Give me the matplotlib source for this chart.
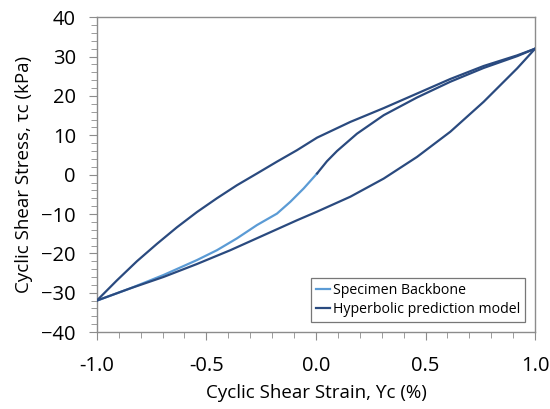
import matplotlib
matplotlib.use("Agg")
import matplotlib.pyplot as plt
from matplotlib.ticker import MultipleLocator

plt.rcParams['font.family'] = ['Open Sans', 'DejaVu Sans']

# hysteresis loop, upper (unloading) branch
upper_x = [-1.0, -0.909, -0.817, -0.726, -0.635, -0.543, -0.452, -0.361, -0.269,
           -0.178, -0.087, 0.005, 0.157, 0.309, 0.461, 0.613, 0.765, 0.918, 1.0]
upper_y = [-32.0, -26.9, -22.0, -17.6, -13.4, -9.5, -6.0, -2.7, 0.3,
           3.3, 6.2, 9.4, 13.4, 16.9, 20.6, 24.3, 27.6, 30.3, 32.0]

# hysteresis loop, lower (reloading) branch
lower_x = [-1.0, -0.848, -0.696, -0.543, -0.391, -0.239, -0.087, 0.005,
           0.157, 0.309, 0.461, 0.613, 0.765, 0.918, 1.0]
lower_y = [-32.0, -28.9, -26.0, -22.7, -19.2, -15.4, -11.6, -9.4,
           -5.6, -1.0, 4.5, 10.9, 18.5, 27.0, 32.0]

# measured backbone
spec_x = [-1.0, -0.848, -0.696, -0.543, -0.452, -0.361, -0.269, -0.178, -0.117, -0.056, 0.005]
spec_y = [-32.0, -28.9, -25.5, -21.7, -19.2, -16.2, -12.8, -9.9, -6.9, -3.5, 0.3]

# hyperbolic model backbone
model_x = [0.005, 0.05, 0.096, 0.187, 0.309, 0.461, 0.613, 0.765, 0.918, 1.0]
model_y = [0.3, 3.4, 6.0, 10.4, 15.1, 19.6, 23.6, 27.1, 30.1, 32.0]

dark = '#2a4a7f'
light = '#5b9bd5'

fig = plt.figure(figsize=(5.5, 4.09), dpi=100)
ax = fig.add_axes([0.176, 0.188, 0.797, 0.770])

ax.plot(spec_x, spec_y, color=light, lw=1.6, label='Specimen Backbone', zorder=2)
ax.plot(upper_x, upper_y, color=dark, lw=1.6, label='Hyperbolic prediction model', zorder=3)
ax.plot(lower_x, lower_y, color=dark, lw=1.6, zorder=3)
ax.plot(model_x, model_y, color=dark, lw=1.6, zorder=3)

ax.set_xlim(-1.0, 1.0)
ax.set_ylim(-40, 40)
ax.xaxis.set_major_locator(MultipleLocator(0.5))
ax.xaxis.set_minor_locator(MultipleLocator(0.1))
ax.yaxis.set_major_locator(MultipleLocator(10))
ax.yaxis.set_minor_locator(MultipleLocator(2))
ax.xaxis.set_major_formatter(plt.FormatStrFormatter('%.1f'))

for s in ax.spines.values():
    s.set_color('#8c8c8c')
    s.set_linewidth(1.0)
ax.tick_params(which='major', length=6, color='#8c8c8c', labelsize=14.5, pad=9)
ax.tick_params(which='minor', length=4, color='#8c8c8c')
ax.tick_params(axis='x', which='major', pad=11)

ax.set_xlabel('Cyclic Shear Strain, ϒc (%)', fontsize=13.5, labelpad=6)
ax.set_ylabel('Cyclic Shear Stress, τc (kPa)', fontsize=13.5, labelpad=6)

leg = ax.legend(loc='lower right', fontsize=10.2, fancybox=False, handlelength=1.0,
                handletextpad=0.2, borderpad=0.35, labelspacing=0.3,
                bbox_to_anchor=(0.993, 0.01))
leg.get_frame().set_edgecolor('#555555')
leg.get_frame().set_linewidth(0.9)

fig.savefig('out.png', dpi=100)
